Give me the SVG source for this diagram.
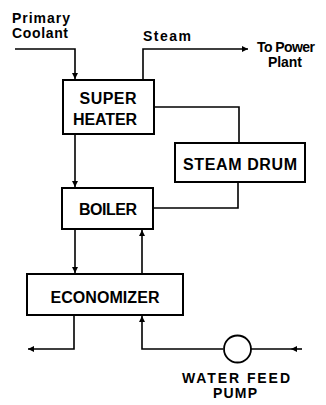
<svg xmlns="http://www.w3.org/2000/svg" width="326" height="405" viewBox="0 0 326 405">
<defs>
<style>
.box{fill:#fff;stroke:#000;stroke-width:2}
.ln{fill:none;stroke:#000;stroke-width:1.6}
.bl{font-family:"Liberation Sans",Arial,sans-serif;font-weight:bold;font-size:16px;fill:#000;text-anchor:middle}
.lb{font-family:"Liberation Sans",Arial,sans-serif;font-weight:bold;font-size:14px;fill:#000}
</style>
<marker id="ah" viewBox="0 0 10 10" refX="10" refY="5" markerWidth="8" markerHeight="6" markerUnits="userSpaceOnUse" orient="auto">
<path d="M0,0 L10,5 L0,10 Z" fill="#000"/>
</marker>
</defs>
<rect width="326" height="405" fill="#fff"/>
<g id="connectors">
<path class="ln" d="M15,49 H75 V79" marker-end="url(#ah)"/>
<path class="ln" d="M143,80 V49 H248" marker-end="url(#ah)"/>
<path class="ln" d="M154,107 H239 V143"/>
<path class="ln" d="M238,182 V208 H153"/>
<path class="ln" d="M75,134 V187" marker-end="url(#ah)"/>
<path class="ln" d="M75,229 V273" marker-end="url(#ah)"/>
<path class="ln" d="M142,274 V230" marker-end="url(#ah)"/>
<path class="ln" d="M74,315 V349 H28" marker-end="url(#ah)"/>
<path class="ln" d="M223,349 H142 V316" marker-end="url(#ah)"/>
<path class="ln" d="M302,349 H291" marker-end="url(#ah)"/>
<path class="ln" d="M291,349 H251"/>
</g>
<g id="superheater">
<rect class="box" x="63" y="80" width="91" height="54"/>
<text class="bl" x="108" y="104" textLength="57" lengthAdjust="spacing">SUPER</text>
<text class="bl" x="105" y="125" textLength="64" lengthAdjust="spacing">HEATER</text>
</g>
<g id="steamdrum">
<rect class="box" x="175" y="143" width="130" height="39"/>
<text class="bl" x="240" y="170" textLength="114" lengthAdjust="spacing">STEAM DRUM</text>
</g>
<g id="boiler">
<rect class="box" x="62" y="188" width="91" height="41"/>
<text class="bl" x="108" y="215" textLength="58" lengthAdjust="spacing">BOILER</text>
</g>
<g id="economizer">
<rect class="box" x="27" y="274" width="156" height="41"/>
<text class="bl" x="105" y="303" textLength="109" lengthAdjust="spacing">ECONOMIZER</text>
</g>
<g id="pump">
<circle cx="237.5" cy="349" r="13.5" fill="#fff" stroke="#000" stroke-width="1.8"/>
<text class="lb" x="236" y="383" text-anchor="middle" textLength="108" lengthAdjust="spacing">WATER FEED</text>
<text class="lb" x="235" y="398" text-anchor="middle" textLength="44" lengthAdjust="spacing">PUMP</text>
</g>
<g id="labels">
<text class="lb" x="12" y="23" textLength="58" lengthAdjust="spacing">Primary</text>
<text class="lb" x="12" y="38" textLength="56" lengthAdjust="spacing">Coolant</text>
<text class="lb" x="143" y="41" textLength="48" lengthAdjust="spacing">Steam</text>
<text class="lb" x="257" y="52" textLength="58" lengthAdjust="spacing">To Power</text>
<text class="lb" x="268" y="67" textLength="34" lengthAdjust="spacing">Plant</text>
</g>
</svg>
